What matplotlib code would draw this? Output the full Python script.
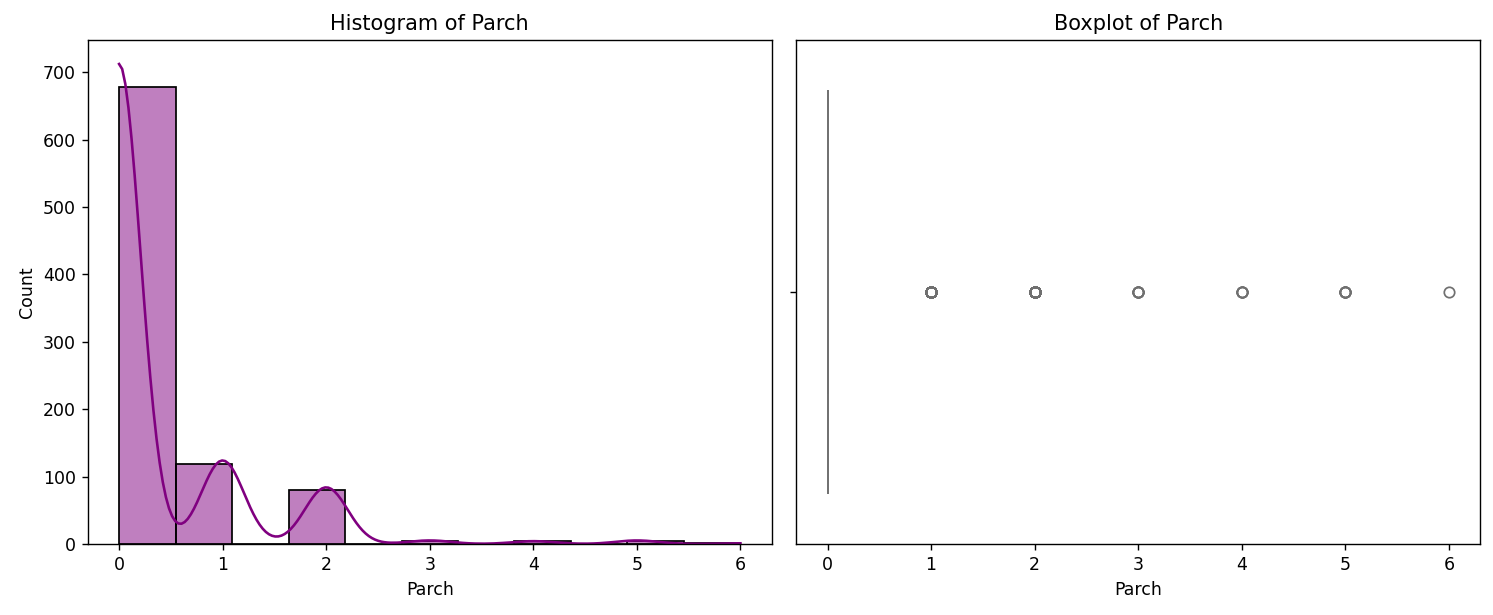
import numpy as np
import pandas as pd
import matplotlib
matplotlib.use("Agg")
import matplotlib.pyplot as plt
import seaborn as sns

# Parch value counts (Titanic)
parch_values = [0, 1, 2, 3, 4, 5, 6]
parch_counts = [678, 118, 80, 5, 4, 5, 1]

parch = pd.Series(np.repeat(parch_values, parch_counts), name="Parch")

fig, axes = plt.subplots(1, 2, figsize=(1493 / 125, 615 / 125))

sns.histplot(parch, bins=11, kde=True, color="purple", edgecolor="black", ax=axes[0])
axes[0].set_title("Histogram of Parch")

sns.boxplot(x=parch, color="#8fbce6", ax=axes[1])
axes[1].set_title("Boxplot of Parch")

fig.subplots_adjust(left=88 / 1493, right=1480 / 1493, top=1 - 40 / 615,
                    bottom=1 - 544 / 615, wspace=25 / 684)
plt.savefig("out.png", dpi=125)
